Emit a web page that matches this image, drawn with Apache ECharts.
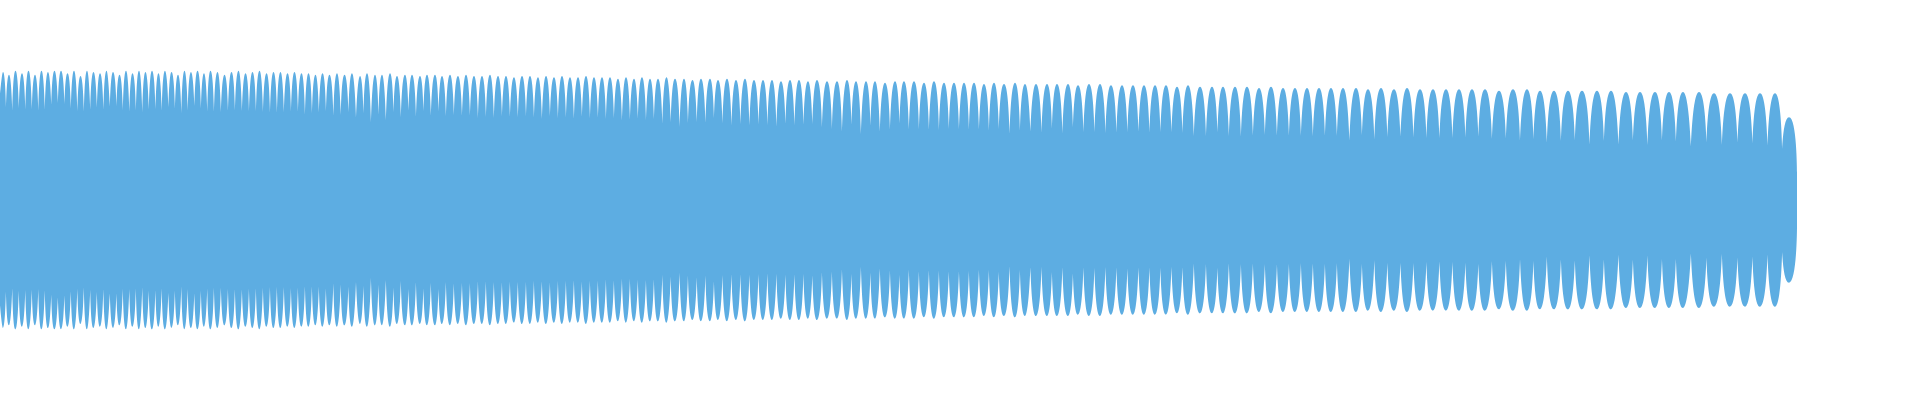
<!DOCTYPE html>
<html>
<head>
<meta charset="utf-8">
<script src="https://cdn.jsdelivr.net/npm/echarts@6/dist/echarts.min.js"></script>
<style>
html,body{margin:0;padding:0;background:#fff;}
#chart{width:1920px;height:400px;}
</style>
</head>
<body>
<div id="chart"></div>
<script>
// Envelope of the waveform.
// gapX: positions of the narrow gaps between the lobes (first = start, last = end of signal)
const gapX = [
  0,
  6, 12.5, 19, 25.5, 32, 38.5, 45, 51.5, 58, 64.5, 71, 77.5, 84, 90.5, 97, 103.5, 110, 116.5, 123, 129.5,
  136, 142.5, 149, 155.5, 162, 168.5, 175, 181.5, 188, 194.5, 201, 207.5, 214, 221, 228, 235, 242, 249, 256,
  263, 270, 277, 284, 291, 298,
  305, 312, 319, 326, 333.5, 341, 348.5, 356, 363.5, 371, 378.5, 386, 393.5, 401, 408.5, 416, 423.5, 431,
  438.5, 446, 454, 462, 470, 478, 486, 494, 502, 510, 518, 526, 534, 542, 550, 558, 566, 574, 582, 590, 598,
  606, 614, 622, 630, 638, 646, 654, 662.5, 671, 679.5, 688, 697, 705.5, 714, 722.5, 731.5, 740.5, 749.5,
  758.5, 767.5, 776.5, 785.5, 794.5, 803.5, 812.5, 822, 832, 842, 851.5, 861, 870.5, 880, 890, 899.5,
  909, 919, 929, 939, 949, 959, 969, 979, 989, 999, 1009.5, 1020, 1030.5, 1041.5, 1052, 1062.5, 1073, 1083.5,
  1094.5, 1105.5, 1116.5, 1127.5, 1138.5, 1149.5, 1160.5, 1171.5, 1182.5, 1194, 1206,
  1217.5, 1229, 1241, 1253, 1265, 1277, 1289, 1301, 1313, 1325, 1337, 1349.5, 1362, 1374.5, 1387.5, 1400.5,
  1413.5, 1426.5, 1439.5, 1452.5, 1465.5, 1478.5, 1492, 1506,
  1520, 1533.5, 1547, 1561, 1575, 1589.5, 1604, 1618.5, 1633, 1647.5, 1662, 1676, 1691, 1706.5, 1722, 1737.5,
  1752.5, 1767.5, 1782, 1797
];
// troughY: envelope height at each gap (same order as gapX)
const troughY = [
  0.79,
  0.40, 0.44, 0.44, 0.43, 0.43, 0.42, 0.44, 0.52, 0.58, 0.46, 0.41, 0.43, 0.36, 0.48, 0.49, 0.37, 0.58, 0.44,
  0.40, 0.47, 0.36, 0.42, 0.50, 0.38, 0.45, 0.55, 0.40, 0.37, 0.46, 0.52, 0.39, 0.44, 0.36, 0.48, 0.42, 0.38,
  0.50, 0.41, 0.37, 0.45, 0.39, 0.35, 0.47, 0.40, 0.37,
  0.42, 0.36, 0.47, 0.39, 0.35, 0.44, 0.38, 0.50, 0.36, 0.41, 0.34, 0.45, 0.38, 0.36, 0.48, 0.35, 0.40, 0.37,
  0.44, 0.34, 0.39, 0.46, 0.35, 0.38, 0.33, 0.43, 0.36, 0.34, 0.41, 0.37, 0.33, 0.45, 0.35, 0.38, 0.33, 0.40,
  0.34, 0.36, 0.33,
  0.38, 0.33, 0.40, 0.31, 0.35, 0.42, 0.32, 0.30, 0.38, 0.33, 0.29, 0.36, 0.31, 0.40, 0.30, 0.34, 0.29, 0.37,
  0.31, 0.28, 0.35, 0.30, 0.33, 0.29, 0.38, 0.30, 0.28, 0.34, 0.29, 0.32, 0.28, 0.35, 0.29, 0.31,
  0.30, 0.28, 0.33, 0.27, 0.31, 0.36, 0.28, 0.30, 0.27, 0.33, 0.29, 0.27, 0.38, 0.28, 0.30, 0.27, 0.32, 0.28,
  0.27, 0.30, 0.27, 0.29, 0.33, 0.27, 0.28, 0.31, 0.27, 0.29, 0.27,
  0.28, 0.26, 0.29, 0.25, 0.27, 0.31, 0.26, 0.25, 0.28, 0.26, 0.25, 0.29, 0.26, 0.25, 0.27, 0.33, 0.26, 0.25,
  0.28, 0.25, 0.26, 0.29, 0.25, 0.26,
  0.26, 0.24, 0.25, 0.23, 0.26, 0.24, 0.23, 0.28, 0.24, 0.23, 0.25, 0.23, 0.30, 0.24, 0.23, 0.25, 0.23, 0.24,
  0.23, 0.21
];
// peakX / peakY: crest of each lobe
const peakX = [
  3, 9, 15.5, 22, 28.5, 35, 41.5, 48, 54.5, 61, 67.5, 74, 80.5, 87, 93.5, 100, 106.5, 113, 119.5, 126, 132.5,
  139, 145.5, 152, 158.5, 165, 171.5, 178, 184.5, 191, 197.5, 204, 210.5, 217.5, 224.5, 231.5, 238.5, 245.5,
  252.5, 259.5, 266.5, 273.5, 280.5, 287.5, 294.5,
  301.5, 308.5, 315.5, 322.5, 329.5, 337, 344.5, 352, 360, 367, 375, 382, 390, 397, 405, 412, 420, 427, 435,
  442, 450, 458, 466, 474, 482, 490, 498, 506, 514, 522, 530, 538, 546, 554, 562, 570, 578, 586, 594,
  602, 610, 618, 626, 634, 642, 650, 658, 666.5, 675, 684, 692.5, 701, 710, 718, 727, 736, 745, 754, 763,
  772, 781, 790, 799, 808, 817, 827, 837, 847, 856, 866, 875, 885, 895,
  904, 914, 924, 934, 944, 954, 964, 974, 984, 994, 1004, 1015, 1025, 1036, 1047, 1057, 1068, 1078, 1089,
  1100, 1111, 1122, 1133, 1144, 1155, 1166, 1177, 1188, 1200,
  1212, 1223, 1235, 1247, 1259, 1271, 1283, 1295, 1307, 1319, 1331, 1343, 1356, 1368, 1381, 1394, 1407,
  1420, 1433, 1446, 1459, 1472, 1485, 1499,
  1513, 1527, 1540, 1554, 1568, 1582, 1597, 1611, 1626, 1640, 1655, 1669, 1683, 1699, 1714, 1730, 1745,
  1760, 1775, 1789
];
const peakY = [
  0.96, 0.94, 0.97, 0.95, 0.97, 0.94, 0.97, 0.96, 0.97, 0.97, 0.95, 0.97, 0.93, 0.97, 0.96, 0.95, 0.97, 0.96,
  0.94, 0.97, 0.95, 0.97, 0.96, 0.97, 0.95, 0.97, 0.96, 0.94, 0.97, 0.96, 0.97, 0.95, 0.97, 0.96, 0.94, 0.96,
  0.97, 0.95, 0.96, 0.97, 0.95, 0.96, 0.96, 0.95, 0.96,
  0.95, 0.95, 0.94, 0.95, 0.94, 0.95, 0.94, 0.95, 0.93, 0.95, 0.94, 0.94, 0.95, 0.93, 0.94, 0.94, 0.93, 0.94,
  0.94, 0.93, 0.94, 0.93, 0.94, 0.93, 0.93, 0.94, 0.93, 0.93, 0.92, 0.93, 0.93, 0.92, 0.93, 0.92, 0.93, 0.92,
  0.92, 0.93, 0.92,
  0.92, 0.92, 0.91, 0.92, 0.91, 0.92, 0.91, 0.91, 0.92, 0.91, 0.91, 0.90, 0.91, 0.91, 0.90, 0.91, 0.90, 0.91,
  0.90, 0.90, 0.90, 0.89, 0.90, 0.90, 0.89, 0.90, 0.89, 0.89, 0.90, 0.89, 0.89, 0.89, 0.88, 0.89,
  0.89, 0.89, 0.88, 0.89, 0.88, 0.88, 0.88, 0.88, 0.87, 0.88, 0.87, 0.88, 0.87, 0.87, 0.87, 0.87, 0.87, 0.86,
  0.87, 0.87, 0.86, 0.86, 0.86, 0.86, 0.86, 0.86, 0.85, 0.86, 0.85,
  0.85, 0.85, 0.85, 0.85, 0.84, 0.85, 0.84, 0.84, 0.84, 0.84, 0.84, 0.84, 0.84, 0.83, 0.84, 0.83, 0.84, 0.83,
  0.83, 0.83, 0.83, 0.83, 0.83, 0.82,
  0.83, 0.83, 0.82, 0.82, 0.82, 0.82, 0.82, 0.82, 0.81, 0.81, 0.81, 0.81, 0.81, 0.81, 0.80, 0.80, 0.80, 0.80,
  0.80, 0.62
];

// ---- rendering ----
const COLOR = '#5DADE2';
const OVERLAP = 0.5; // neighbouring lobes overlap slightly at the gap, in x units

// each lobe is its own segment (gap -> crest -> gap), separated by empty points
function buildEnvelope(sign) {
  const pts = [];
  const n = peakX.length;
  for (let i = 0; i < n; i++) {
    const x0 = i === 0 ? gapX[0] : gapX[i] - OVERLAP;
    const x1 = i === n - 1 ? gapX[n] : gapX[i + 1] + OVERLAP;
    pts.push([x0, sign * troughY[i]]);
    pts.push([peakX[i], sign * peakY[i]]);
    pts.push([x1, sign * troughY[i + 1]]);
    if (i < n - 1) pts.push([x1, '-']);
  }
  return pts;
}

const chart = echarts.init(document.getElementById('chart'), null, {renderer: 'canvas'});
const lineSeries = (data) => ({
  type: 'line',
  data: data,
  smooth: 1,
  connectNulls: false,
  symbol: 'none',
  showSymbol: false,
  silent: true,
  lineStyle: {width: 0, opacity: 0},
  areaStyle: {color: COLOR, opacity: 1},
  emphasis: {disabled: true}
});
chart.setOption({
  animation: false,
  backgroundColor: '#ffffff',
  grid: {left: 0, right: 0, top: 0, bottom: 0},
  xAxis: {type: 'value', min: 0, max: 1920, show: false},
  yAxis: {type: 'value', min: -1.5, max: 1.5, show: false},
  series: [lineSeries(buildEnvelope(1)), lineSeries(buildEnvelope(-1))]
});
</script>
</body>
</html>
